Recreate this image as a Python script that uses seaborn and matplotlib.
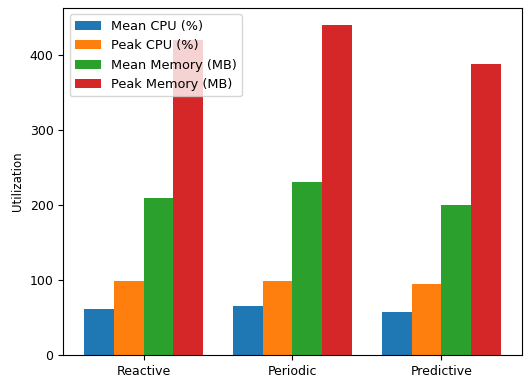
import matplotlib
matplotlib.use("Agg")
import matplotlib.pyplot as plt
import seaborn as sns
import pandas as pd

strategies = ["Reactive", "Periodic", "Predictive"]
metrics = ["Mean CPU (%)", "Peak CPU (%)", "Mean Memory (MB)", "Peak Memory (MB)"]
mean_cpu = [62, 65, 57]
peak_cpu = [98, 98, 94]
mean_mem = [209, 230, 200]
peak_mem = [420, 440, 388]
colors = ["#1f77b4", "#ff7f0e", "#2ca02c", "#d62728"]

rows = []
for vals, m in zip([mean_cpu, peak_cpu, mean_mem, peak_mem], metrics):
    for s, v in zip(strategies, vals):
        rows.append({"Strategy": s, "Metric": m, "Value": v})
df = pd.DataFrame(rows)

fig = plt.figure(figsize=(5.27, 3.81), dpi=100)
ax = fig.add_axes([0.12, 0.068, 0.87, 0.911])
sns.barplot(data=df, x="Strategy", y="Value", hue="Metric", hue_order=metrics,
            order=strategies, palette=colors, saturation=1, width=0.8, ax=ax)
ax.set_xlim(-0.54, 2.54)
ax.set_ylim(0, 462)
ax.set_xlabel("")
ax.set_ylabel("Utilization", fontsize=8.5)
ax.tick_params(labelsize=9)
ax.legend(loc="upper left", fontsize=9.3, title=None)
fig.savefig("out.png", dpi=100)
